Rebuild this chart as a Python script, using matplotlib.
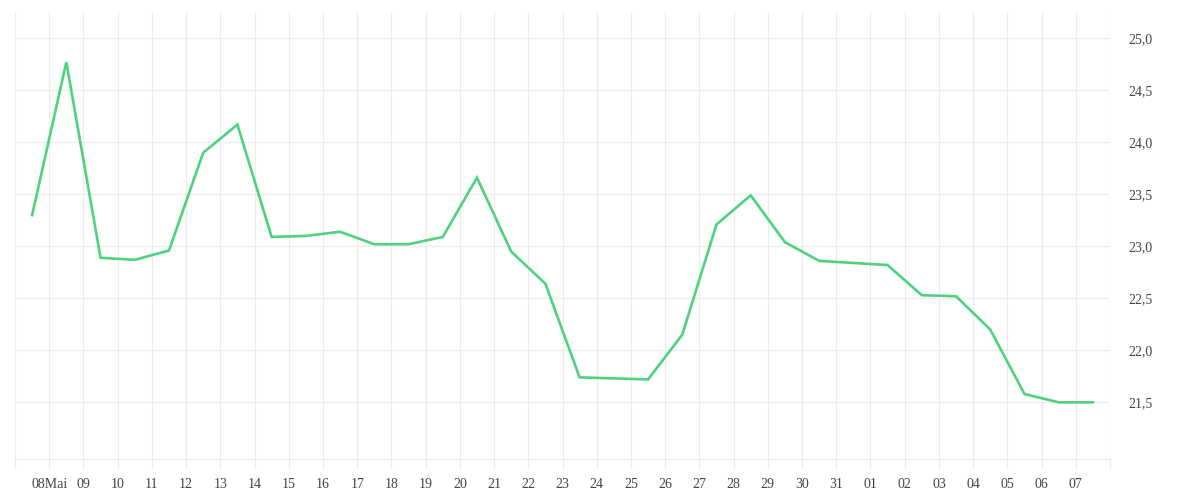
import datetime as dt

import matplotlib

matplotlib.use("Agg")
import matplotlib.pyplot as plt

# Messwerte (jeweils Mittag), 24.05. und 31.05. fehlen in der Vorlage
dates = [
    "2023-05-07", "2023-05-08", "2023-05-09", "2023-05-10", "2023-05-11",
    "2023-05-12", "2023-05-13", "2023-05-14", "2023-05-15", "2023-05-16",
    "2023-05-17", "2023-05-18", "2023-05-19", "2023-05-20", "2023-05-21",
    "2023-05-22", "2023-05-23", "2023-05-25", "2023-05-26", "2023-05-27",
    "2023-05-28", "2023-05-29", "2023-05-30", "2023-06-01", "2023-06-02",
    "2023-06-03", "2023-06-04", "2023-06-05", "2023-06-06", "2023-06-07",
]
values = [
    23.30, 24.77, 22.89, 22.87, 22.96,
    23.90, 24.17, 23.09, 23.10, 23.14,
    23.02, 23.02, 23.09, 23.66, 22.95,
    22.64, 21.74, 21.72, 22.15, 23.21,
    23.49, 23.04, 22.86, 22.82, 22.53,
    22.52, 22.20, 21.58, 21.50, 21.50,
]

# Achsenbeschriftung
tick_days = [dt.datetime(2023, 5, 7) + dt.timedelta(days=i) for i in range(33)]
tick_labels = [""] + ["08Mai"] + [f"{d:02d}" for d in range(9, 32)] + [f"{d:02d}" for d in range(1, 8)] + [""]
y_ticks = [21.5, 22.0, 22.5, 23.0, 23.5, 24.0, 24.5, 25.0]
y_labels = ["21,5", "22,0", "22,5", "23,0", "23,5", "24,0", "24,5", "25,0"]

GRID = "#ececec"
TEXT = "#444444"
LINE = "#4fd27d"

plt.rcParams["font.family"] = ["Liberation Serif", "DejaVu Serif"]

fig = plt.figure(figsize=(12, 5), dpi=100)
ax = fig.add_axes([0.0125, 0.082, 0.9125, 0.894])

x = [dt.datetime.strptime(d, "%Y-%m-%d") + dt.timedelta(hours=12) for d in dates]
ax.plot(x, values, color=LINE, linewidth=1.9, solid_joinstyle="miter")

ax.set_xlim(tick_days[0], tick_days[-1])
ax.set_ylim(20.955, 25.253)

ax.set_xticks(tick_days)
ax.set_xticklabels(tick_labels)
ax.set_yticks(y_ticks)
ax.set_yticklabels(y_labels)
ax.yaxis.tick_right()

ax.grid(True, color=GRID, linewidth=0.8)
ax.set_axisbelow(True)
for side in ("top", "left", "right"):
    ax.spines[side].set_visible(False)
ax.spines["bottom"].set_color(GRID)
ax.spines["bottom"].set_linewidth(0.8)

ax.tick_params(axis="x", length=7, width=0.8, color=GRID, pad=7, labelsize=10, labelcolor=TEXT)
ax.tick_params(axis="y", length=0, pad=13, labelsize=10, labelcolor=TEXT)
for lbl in ax.get_yticklabels():
    lbl.set_horizontalalignment("left")

fig.savefig("out.png", dpi=100)
plt.close(fig)
